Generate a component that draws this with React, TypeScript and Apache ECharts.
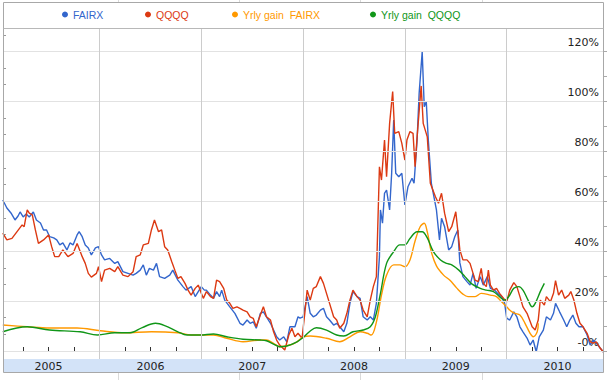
import React, { useEffect, useRef } from 'react';
import * as echarts from 'echarts';

// ---- data (decimal year, percent) ----
const fairx: [number, number][] = [
  [2005.05,60.5],[2005.09,57.3],[2005.13,55.3],[2005.17,52.5],[2005.20,54.1],[2005.22,55.7],[2005.25,53.7],[2005.28,54.9],[2005.31,53.7],[2005.35,55.7],
  [2005.38,52.5],[2005.42,51.3],[2005.45,48.5],[2005.48,48.5],[2005.51,45.8],[2005.55,45.3],[2005.58,44.5],[2005.61,42.5],[2005.64,43.3],[2005.68,40.5],
  [2005.71,43.3],[2005.74,42.5],[2005.78,46.5],[2005.80,47.8],[2005.83,45.8],[2005.86,42.5],[2005.89,41.3],[2005.92,38.5],[2005.96,41.3],[2005.99,41.8],
  [2006.02,38.5],[2006.05,36.5],[2006.10,37.1],[2006.15,35.1],[2006.18,35.8],[2006.23,31.8],[2006.28,31.1],[2006.33,30.4],[2006.36,31.1],[2006.40,32.4],
  [2006.43,34.5],[2006.46,30.4],[2006.49,33.1],[2006.53,32.4],[2006.56,35.1],[2006.59,29.8],[2006.64,29.1],[2006.69,30.4],[2006.72,32.4],[2006.77,28.4],
  [2006.82,25.8],[2006.85,24.4],[2006.90,25.8],[2006.94,21.8],[2006.97,23.8],[2007.00,25.8],[2007.03,24.4],[2007.05,24.4],[2007.09,22.4],[2007.12,21.1],
  [2007.15,23.8],[2007.18,21.8],[2007.20,24.4],[2007.23,20.4],[2007.28,17.7],[2007.33,15.1],[2007.38,11.1],[2007.41,10.4],[2007.45,12.4],[2007.48,11.1],
  [2007.51,11.7],[2007.54,9.1],[2007.58,15.1],[2007.61,15.7],[2007.64,13.7],[2007.68,11.1],[2007.71,8.4],[2007.74,5.7],[2007.77,4.4],[2007.81,5.7],
  [2007.84,3.7],[2007.87,9.7],[2007.92,9.7],[2007.95,13.7],[2007.97,13.2],[2008.00,13.7],[2008.04,21.8],[2008.07,15.1],[2008.10,13.7],[2008.13,14.4],
  [2008.17,16.4],[2008.20,17.1],[2008.23,13.7],[2008.26,12.4],[2008.30,10.4],[2008.33,11.1],[2008.36,9.7],[2008.40,7.7],[2008.43,11.1],[2008.46,19.1],
  [2008.49,23.8],[2008.53,21.8],[2008.56,21.1],[2008.59,13.7],[2008.63,12.4],[2008.66,13.7],[2008.69,12.4],[2008.72,19.1],[2008.75,37.8],[2008.76,56.5],
  [2008.78,51.2],[2008.80,63.2],[2008.82,64.5],[2008.85,56.5],[2008.87,71.2],[2008.89,92.5],[2008.91,71.2],[2008.94,69.8],[2008.97,71.2],[2009.00,58.5],
  [2009.03,65.8],[2009.07,69.2],[2009.09,67.2],[2009.12,84.5],[2009.14,103.2],[2009.17,119.9],[2009.19,97.9],[2009.21,99.9],[2009.23,84.5],[2009.26,67.2],
  [2009.31,56.5],[2009.34,44.5],[2009.36,53.2],[2009.39,49.8],[2009.43,40.5],[2009.46,41.8],[2009.49,45.8],[2009.52,48.5],[2009.54,35.3],[2009.57,29.8],
  [2009.61,27.8],[2009.64,26.4],[2009.67,31.1],[2009.70,25.1],[2009.74,29.8],[2009.77,26.4],[2009.81,29.8],[2009.84,25.1],[2009.88,24.4],[2009.91,23.1],
  [2009.95,21.8],[2009.98,19.1],[2010.00,13.2],[2010.03,12.4],[2010.07,15.7],[2010.10,13.7],[2010.13,9.7],[2010.16,7.7],[2010.20,5.2],[2010.23,2.4],
  [2010.26,4.4],[2010.29,-0.3],[2010.32,5.7],[2010.36,8.4],[2010.39,13.7],[2010.43,12.4],[2010.46,15.1],[2010.48,19.1],[2010.52,15.7],[2010.56,12.4],
  [2010.59,9.7],[2010.62,12.4],[2010.65,14.4],[2010.68,11.1],[2010.71,9.7],[2010.75,9.7],[2010.79,6.4],[2010.82,2.4],[2010.85,4.4],[2010.88,3.2],
  [2010.92,1.1],[2010.95,-0.4],
];

const qqqq: [number, number][] = [
  [2005.05,47.2],[2005.09,44.5],[2005.14,45.1],[2005.19,47.8],[2005.24,50.5],[2005.26,49.8],[2005.29,56.5],[2005.31,55.2],[2005.34,54.5],[2005.37,48.5],
  [2005.40,43.1],[2005.45,44.5],[2005.50,46.5],[2005.53,41.8],[2005.56,37.8],[2005.60,37.8],[2005.64,40.5],[2005.69,37.8],[2005.74,39.1],[2005.78,43.1],
  [2005.83,37.8],[2005.86,35.1],[2005.89,31.1],[2005.92,29.6],[2005.97,31.1],[2005.99,33.8],[2006.02,27.8],[2006.05,32.4],[2006.10,33.1],[2006.15,31.8],
  [2006.18,33.8],[2006.23,30.4],[2006.28,29.8],[2006.33,31.8],[2006.36,37.8],[2006.40,38.5],[2006.43,42.5],[2006.48,43.1],[2006.51,48.5],[2006.54,52.5],
  [2006.58,47.8],[2006.61,48.5],[2006.64,41.8],[2006.67,40.5],[2006.71,35.8],[2006.74,32.4],[2006.77,29.1],[2006.80,29.8],[2006.84,27.1],[2006.87,24.4],
  [2006.90,22.4],[2006.94,25.1],[2006.97,26.4],[2007.00,23.1],[2007.02,21.1],[2007.05,23.8],[2007.09,21.8],[2007.12,21.1],[2007.15,28.4],[2007.18,27.8],
  [2007.22,25.1],[2007.25,20.4],[2007.28,19.1],[2007.31,17.1],[2007.35,17.7],[2007.38,17.1],[2007.41,16.4],[2007.45,15.7],[2007.48,13.7],[2007.51,13.1],
  [2007.54,9.7],[2007.58,14.4],[2007.61,17.7],[2007.64,13.7],[2007.68,12.4],[2007.71,7.7],[2007.74,4.4],[2007.77,2.4],[2007.82,0.4],[2007.86,6.4],
  [2007.89,9.1],[2007.92,5.7],[2007.95,7.1],[2007.99,5.1],[2008.02,16.4],[2008.04,24.4],[2008.07,20.4],[2008.10,25.1],[2008.13,25.8],[2008.17,29.8],
  [2008.20,27.1],[2008.23,23.1],[2008.26,19.1],[2008.30,13.7],[2008.33,12.4],[2008.36,9.1],[2008.40,11.1],[2008.43,15.1],[2008.46,20.4],[2008.49,24.4],
  [2008.53,21.8],[2008.56,20.4],[2008.59,16.4],[2008.63,13.7],[2008.66,20.4],[2008.69,25.8],[2008.72,29.8],[2008.75,73.8],[2008.77,68.5],[2008.80,84.5],
  [2008.82,69.8],[2008.85,91.2],[2008.88,103.9],[2008.90,87.2],[2008.94,87.9],[2008.97,83.2],[2009.00,76.5],[2009.02,84.5],[2009.05,87.9],[2009.08,87.2],
  [2009.10,73.8],[2009.12,85.8],[2009.16,106.2],[2009.18,91.2],[2009.22,85.8],[2009.25,67.2],[2009.30,61.8],[2009.33,59.2],[2009.36,63.2],[2009.39,55.2],
  [2009.43,47.8],[2009.46,49.8],[2009.50,55.8],[2009.54,40.5],[2009.57,36.5],[2009.61,36.5],[2009.64,35.1],[2009.69,28.4],[2009.72,27.8],[2009.75,33.1],
  [2009.77,27.1],[2009.80,25.8],[2009.82,32.4],[2009.84,26.4],[2009.87,24.4],[2009.90,25.1],[2009.93,23.1],[2009.97,21.1],[2010.00,19.6],[2010.03,24.4],
  [2010.07,27.4],[2010.10,25.8],[2010.13,21.8],[2010.16,17.7],[2010.20,15.1],[2010.25,9.7],[2010.28,8.4],[2010.31,12.4],[2010.33,20.4],[2010.37,18.4],
  [2010.39,21.8],[2010.43,19.7],[2010.46,23.1],[2010.48,28.2],[2010.51,22.4],[2010.54,24.4],[2010.57,21.1],[2010.61,22.4],[2010.63,23.8],[2010.66,20.4],
  [2010.69,15.1],[2010.72,11.1],[2010.75,9.7],[2010.79,7.1],[2010.82,3.7],[2010.85,3.2],[2010.88,3.7],[2010.92,1.1],[2010.95,-0.4],
];

const yrlyGainFairx: [number, number][] = [
  [2005.05,10.4],[2005.29,9.7],[2005.51,9.2],[2005.78,9.2],[2006.01,8.1],[2006.25,7.3],[2006.51,7.7],[2006.77,7.3],[2006.90,6.4],[2007.03,6.4],
  [2007.12,6.4],[2007.25,5.1],[2007.41,3.7],[2007.58,4.4],[2007.64,4.4],[2007.71,3.1],[2007.77,1.7],[2007.87,2.4],[2007.94,3.7],[2008.00,5.6],
  [2008.07,6.0],[2008.23,5.1],[2008.36,3.7],[2008.46,5.7],[2008.56,7.7],[2008.63,7.1],[2008.67,6.4],[2008.72,11.6],[2008.77,22.4],[2008.82,30.4],
  [2008.89,34.5],[2008.95,34.5],[2009.00,33.8],[2009.05,36.5],[2009.10,44.1],[2009.15,49.8],[2009.19,51.2],[2009.22,47.7],[2009.26,39.7],[2009.31,34.1],
  [2009.38,30.4],[2009.44,28.4],[2009.51,25.2],[2009.57,22.8],[2009.62,21.8],[2009.69,21.8],[2009.75,23.1],[2009.84,22.4],[2009.90,21.8],[2009.95,19.7],
  [2010.00,17.7],[2010.04,16.0],[2010.08,15.1],[2010.13,14.4],[2010.18,11.1],[2010.23,7.1],[2010.26,5.7],[2010.30,7.7],[2010.31,11.1],
];

const yrlyGainQqqq: [number, number][] = [
  [2005.05,7.7],[2005.29,9.7],[2005.51,8.4],[2005.81,7.7],[2005.98,6.4],[2006.15,7.3],[2006.30,7.3],[2006.42,9.4],[2006.55,11.1],[2006.64,10.2],
  [2006.77,7.7],[2006.86,6.4],[2006.99,6.4],[2007.12,6.8],[2007.25,5.7],[2007.41,4.7],[2007.58,4.4],[2007.64,4.1],[2007.71,2.8],[2007.77,1.7],
  [2007.84,2.0],[2007.94,3.7],[2008.00,5.4],[2008.07,8.0],[2008.13,9.3],[2008.23,8.4],[2008.33,6.4],[2008.40,6.0],[2008.49,7.7],[2008.59,8.4],
  [2008.66,9.7],[2008.71,13.7],[2008.76,23.1],[2008.82,35.1],[2008.89,39.8],[2008.95,42.5],[2009.00,42.5],[2009.05,45.1],[2009.12,47.8],[2009.17,47.8],
  [2009.22,45.3],[2009.28,39.8],[2009.35,36.5],[2009.41,35.1],[2009.46,34.5],[2009.53,32.4],[2009.59,29.8],[2009.66,26.8],[2009.74,25.1],[2009.80,24.4],
  [2009.87,23.8],[2009.93,21.8],[2009.98,20.4],[2010.02,21.8],[2010.07,25.1],[2010.12,25.8],[2010.16,24.4],[2010.21,20.4],[2010.25,17.7],[2010.28,19.1],
  [2010.33,23.8],[2010.37,27.1],
];

// ---- axes ----
const yearBoundaries = [2006, 2007, 2008, 2009, 2010];
const yearLabelAt = [2005.5, 2006.5, 2007.5, 2008.5, 2009.5, 2010.5];
const quarterTicks = [
  2005.25, 2005.5, 2005.75, 2006.25, 2006.5, 2006.75, 2007.25, 2007.5, 2007.75,
  2008.25, 2008.5, 2008.75, 2009.25, 2009.5, 2009.75, 2010.25, 2010.5, 2010.75,
];
const pctLabels = [0, 20, 40, 60, 80, 100, 120];
const pctRightTicks = [0, 10, 20, 30, 40, 50, 60, 70, 80, 90, 100, 110, 120];
const pctLeftTicks = [
  0, 6.667, 13.333, 20, 26.667, 33.333, 40, 46.667, 53.333, 60, 66.667, 73.333,
  80, 86.667, 93.333, 100, 106.667, 113.333, 120, 126.667,
];

const X_MIN = 2005.052;
const X_MAX = 2010.956;
const Y_MIN = -3.2;
const Y_MAX = 129;

const BLUE = '#3366cc';
const RED = '#dc3912';
const ORANGE = '#ff9900';
const GREEN = '#109618';

const NAME_FAIRX = 'FAIRX';
const NAME_QQQQ = 'QQQQ';
const NAME_YG_FAIRX = 'Yrly gain  FAIRX';
const NAME_YG_QQQQ = 'Yrly gain  QQQQ';

export default function App() {
  const ref = useRef<HTMLDivElement>(null);

  useEffect(() => {
    if (!ref.current) return;
    const chart = echarts.init(ref.current, undefined, { renderer: 'svg' });

    const legendCommon = {
      top: 9,
      icon: 'circle',
      itemWidth: 6,
      itemHeight: 6,
      itemGap: 0,
      padding: 0,
      selectedMode: false,
      textStyle: { fontSize: 10.5, fontFamily: 'Liberation Sans, Arial, sans-serif' },
    };

    const lineSeries = (name: string, data: [number, number][], color: string, smooth: boolean | number) => ({
      name,
      type: 'line',
      data,
      showSymbol: false,
      symbol: 'none',
      smooth,
      lineStyle: { color, width: 1.4 },
      itemStyle: { color },
      xAxisIndex: 0,
      yAxisIndex: 0,
      z: 3,
    });

    const axisFont = { fontFamily: 'DejaVu Sans, Verdana, sans-serif', fontSize: 11, color: '#222' };

    chart.setOption({
      animation: false,
      backgroundColor: '#ffffff',
      grid: { left: 3, right: 3, top: 29, bottom: 21, containLabel: false },
      legend: [
        { ...legendCommon, left: 62, data: [{ name: NAME_FAIRX, textStyle: { color: BLUE } }] },
        { ...legendCommon, left: 145, data: [{ name: NAME_QQQQ, textStyle: { color: RED } }] },
        { ...legendCommon, left: 232, data: [{ name: NAME_YG_FAIRX, textStyle: { color: ORANGE } }] },
        { ...legendCommon, left: 370, data: [{ name: NAME_YG_QQQQ, textStyle: { color: GREEN } }] },
      ],
      xAxis: [
        {
          type: 'value',
          min: X_MIN,
          max: X_MAX,
          position: 'bottom',
          axisLine: { show: false },
          axisTick: { show: true, customValues: quarterTicks, inside: true, length: 4, lineStyle: { color: '#333', width: 1 } },
          axisLabel: {
            show: true,
            customValues: yearLabelAt,
            margin: 2,
            formatter: (v: number) => String(Math.floor(v)),
            ...axisFont,
          },
          splitLine: { show: false },
        },
        {
          type: 'value',
          min: X_MIN,
          max: X_MAX,
          position: 'bottom',
          offset: 0,
          axisLine: { show: false },
          axisTick: { show: true, customValues: yearBoundaries, inside: true, length: 6, lineStyle: { color: '#000', width: 1 } },
          axisLabel: { show: false },
          splitLine: { show: false },
        },
      ],
      yAxis: [
        {
          type: 'value',
          min: Y_MIN,
          max: Y_MAX,
          position: 'right',
          axisLine: { show: false },
          axisTick: { show: true, customValues: pctRightTicks, inside: false, length: 3, lineStyle: { color: '#aaa' } },
          axisLabel: {
            show: true,
            customValues: pctLabels,
            inside: true,
            margin: 5,
            verticalAlign: 'bottom',
            padding: [0, 0, 3, 0],
            formatter: (v: number) => (v === 0 ? '-0%' : v + '%'),
            ...axisFont,
          },
          splitLine: { show: false },
        },
        {
          type: 'value',
          min: Y_MIN,
          max: Y_MAX,
          position: 'left',
          axisLine: { show: false },
          axisTick: { show: true, customValues: pctLeftTicks, inside: true, length: 3, lineStyle: { color: '#999' } },
          axisLabel: { show: false },
          splitLine: { show: false },
        },
      ],
      graphic: [
        { type: 'rect', z: -5, shape: { x: 3, y: 359, width: 601, height: 13.5 }, style: { fill: '#d3e3f8' } },
        { type: 'rect', z: 50, shape: { x: 3.5, y: 2.5, width: 600, height: 370 }, style: { fill: 'none', stroke: '#a8a8a8', lineWidth: 1 } },
        { type: 'line', z: 50, shape: { x1: 3.5, y1: 28.5, x2: 603.5, y2: 28.5 }, style: { stroke: '#b8b8b8', lineWidth: 1 } },
        ...[118.5, 239.5, 360.5, 482.5].flatMap((x) => [
          { type: 'line', z: -5, shape: { x1: x, y1: 0, x2: x, y2: 2 }, style: { stroke: '#dadada', lineWidth: 1 } },
          { type: 'line', z: -5, shape: { x1: x, y1: 373, x2: x, y2: 380 }, style: { stroke: '#dadada', lineWidth: 1 } },
        ]),
      ],
      series: [
        {
          name: 'gridlines',
          type: 'line',
          data: [],
          silent: true,
          z: 1,
          xAxisIndex: 0,
          yAxisIndex: 0,
          markLine: {
            silent: true,
            symbol: 'none',
            animation: false,
            label: { show: false },
            lineStyle: { color: '#e2e2e2', type: 'solid', width: 1 },
            data: [
              ...pctLabels.map((v) => ({ yAxis: v })),
              ...yearBoundaries.map((v) => ({ xAxis: v, lineStyle: { color: '#cccccc', type: 'solid', width: 1 } })),
            ],
          },
        },
        lineSeries(NAME_FAIRX, fairx, BLUE, false),
        lineSeries(NAME_QQQQ, qqqq, RED, false),
        lineSeries(NAME_YG_FAIRX, yrlyGainFairx, ORANGE, 0.35),
        lineSeries(NAME_YG_QQQQ, yrlyGainQqqq, GREEN, 0.35),
      ],
    });

    return () => chart.dispose();
  }, []);

  return (
    <div
      ref={ref}
      style={{ position: 'absolute', left: 0, top: 0, width: 607, height: 380 }}
    />
  );
}
